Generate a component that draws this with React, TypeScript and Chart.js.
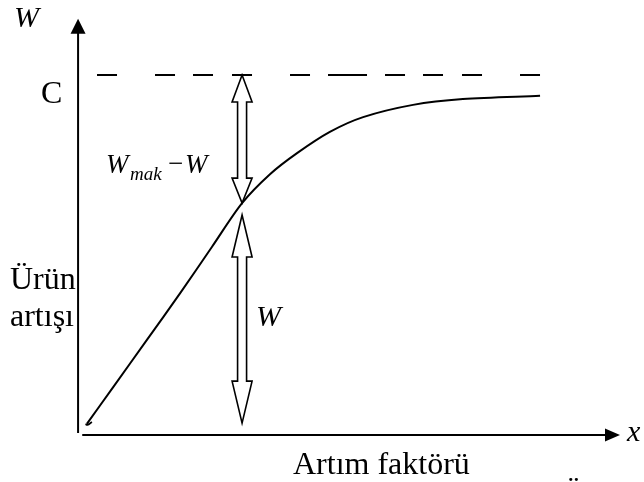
import { useEffect, useRef } from "react";
import { Chart, registerables } from "chart.js";

Chart.register(...registerables);

// Growth curve (x: Artım faktörü, y: Ürün artışı W, with C = 100)
const growthX = [0.19, 0.76, 1.49, 2.21, 2.9, 3.55, 4.16, 4.74, 5.45, 6.17, 7.25, 8.33, 10.0];
const growthY = [3.1, 13.3, 26.4, 39.4, 52.3, 64.4, 72.5, 78.3, 84.2, 88.3, 91.7, 93.3, 94.2];
const hookX = [0.16, 0.2, 0.3];
const hookY = [3.0, 2.8, 3.6];
const capacityC = 100;
const capacityX = [0.41, 10.0];
const arrowX = 3.55;
const gapArrowY = [100, 64.4]; // W_mak − W
const yieldArrowY = [61.1, 3.3]; // W
const xAxisSpan = [0.09, 11.73];
const yAxisSpan = [0.55, 115.6];
const xLimits = [-1.69, 12.25];
const yLimits = [-13.06, 120.83];

const SERIF = '"Liberation Serif", "Times New Roman", serif';

export default function App() {
  const ref = useRef<HTMLCanvasElement | null>(null);

  useEffect(() => {
    document.body.style.margin = "0";
    const canvas = ref.current;
    if (!canvas) return;

    const overlay = {
      id: "overlay",
      beforeDatasetsDraw(chart: any) {
        const ctx = chart.ctx;
        const xs = chart.scales.x;
        const ys = chart.scales.y;
        ctx.save();
        ctx.strokeStyle = "#000";
        ctx.fillStyle = "#000";
        ctx.lineWidth = 2;
        // y axis
        const ax = xs.getPixelForValue(0);
        const yb = ys.getPixelForValue(yAxisSpan[0]);
        const yt = ys.getPixelForValue(yAxisSpan[1]);
        ctx.beginPath();
        ctx.moveTo(ax, yb);
        ctx.lineTo(ax, yt + 14);
        ctx.stroke();
        ctx.beginPath();
        ctx.moveTo(ax, yt);
        ctx.lineTo(ax + 7.5, yt + 15);
        ctx.lineTo(ax - 7.5, yt + 15);
        ctx.closePath();
        ctx.fill();
        // x axis
        const ay = ys.getPixelForValue(0);
        const xl = xs.getPixelForValue(xAxisSpan[0]);
        const xr = xs.getPixelForValue(xAxisSpan[1]);
        ctx.beginPath();
        ctx.moveTo(xl, ay);
        ctx.lineTo(xr - 14, ay);
        ctx.stroke();
        ctx.beginPath();
        ctx.moveTo(xr, ay);
        ctx.lineTo(xr - 15, ay - 6.5);
        ctx.lineTo(xr - 15, ay + 6.5);
        ctx.closePath();
        ctx.fill();

        // hollow double arrows
        const drawArrow = (span: number[], hlTop: number, hlBot: number) => {
          const cx = xs.getPixelForValue(arrowX);
          const ty = ys.getPixelForValue(span[0]);
          const by = ys.getPixelForValue(span[1]);
          const hw = 10;
          const sw = 4.5;
          ctx.beginPath();
          ctx.moveTo(cx, ty);
          ctx.lineTo(cx + hw, ty + hlTop);
          ctx.lineTo(cx + sw, ty + hlTop);
          ctx.lineTo(cx + sw, by - hlBot);
          ctx.lineTo(cx + hw, by - hlBot);
          ctx.lineTo(cx, by);
          ctx.lineTo(cx - hw, by - hlBot);
          ctx.lineTo(cx - sw, by - hlBot);
          ctx.lineTo(cx - sw, ty + hlTop);
          ctx.lineTo(cx - hw, ty + hlTop);
          ctx.closePath();
          ctx.fillStyle = "#fff";
          ctx.fill();
          ctx.lineWidth = 1.6;
          ctx.lineJoin = "miter";
          ctx.strokeStyle = "#000";
          ctx.stroke();
        };
        drawArrow(gapArrowY, 27, 25);
        drawArrow(yieldArrowY, 42, 42);
        ctx.restore();
      },
      afterDraw(chart: any) {
        const ctx = chart.ctx;
        ctx.save();
        ctx.fillStyle = "#000";
        ctx.textBaseline = "alphabetic";
        ctx.textAlign = "left";
        ctx.font = `italic 30px ${SERIF}`;
        ctx.fillText("W", 14, 27);
        ctx.font = `32px ${SERIF}`;
        ctx.fillText("C", 41, 103);
        ctx.fillText("Ürün", 10, 289);
        ctx.fillText("artışı", 10, 326);
        ctx.fillText("Artım faktörü", 293, 474);
        ctx.fillText("Ü", 562, 504);
        ctx.font = `italic 30px ${SERIF}`;
        ctx.fillText("W", 256, 326);
        ctx.fillText("x", 627, 441);
        // W_mak − W
        ctx.font = `italic 27px ${SERIF}`;
        ctx.fillText("W", 106, 173);
        ctx.font = `italic 19px ${SERIF}`;
        ctx.fillText("mak", 130, 180);
        ctx.font = `27px ${SERIF}`;
        ctx.fillText("\u2212", 168, 172);
        ctx.font = `italic 27px ${SERIF}`;
        ctx.fillText("W", 185, 173);
        ctx.restore();
      },
    };

    const chart = new Chart(canvas, {
      type: "scatter",
      data: {
        datasets: [
          {
            data: growthX.map((x, i) => ({ x, y: growthY[i] })),
            showLine: true,
            borderColor: "#000",
            borderWidth: 2,
            pointRadius: 0,
            tension: 0.3,
          },
          {
            data: hookX.map((x, i) => ({ x, y: hookY[i] })),
            showLine: true,
            borderColor: "#000",
            borderWidth: 1.8,
            pointRadius: 0,
            tension: 0.4,
          },
          {
            data: capacityX.map((x) => ({ x, y: capacityC })),
            showLine: true,
            borderColor: "#000",
            borderWidth: 2,
            pointRadius: 0,
            borderDash: [20, 38, 20, 18, 20, 19, 20, 38, 20, 18, 39, 18, 20, 18, 20, 19, 20, 38, 20, 20],
          },
        ],
      },
      options: {
        animation: false,
        responsive: false,
        devicePixelRatio: 1,
        layout: { padding: 0 },
        plugins: { legend: { display: false }, tooltip: { enabled: false } },
        scales: {
          x: { type: "linear", min: xLimits[0], max: xLimits[1], display: false },
          y: { type: "linear", min: yLimits[0], max: yLimits[1], display: false },
        },
      } as any,
      plugins: [overlay],
    });
    return () => chart.destroy();
  }, []);

  return (
    <div style={{ width: 644, height: 482, position: "relative", background: "#fff" }}>
      <canvas ref={ref} width={644} height={482} style={{ display: "block" }} />
    </div>
  );
}
